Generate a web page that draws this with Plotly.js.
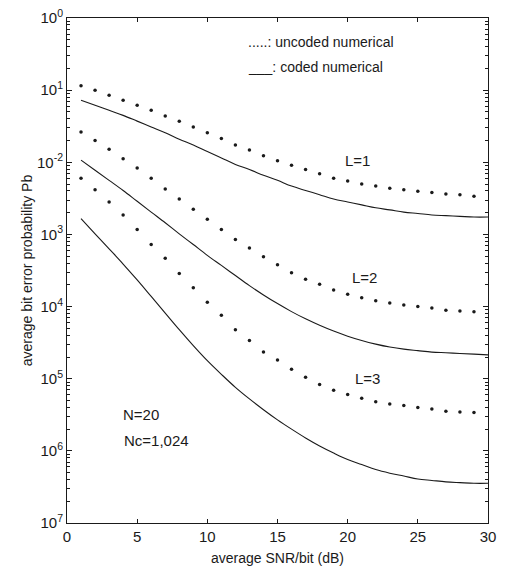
<!DOCTYPE html>
<html>
<head>
<meta charset="utf-8">
<script src="https://cdn.plot.ly/plotly-3.0.1.min.js"></script>
<style>html,body{margin:0;padding:0;background:#fff;}#chart{width:508px;height:575px;}</style>
</head>
<body>
<div id="chart"></div>
<script>
// SNR/bit (dB) sample positions
var snrUncoded = [1,2,3,4,5,6,7,8,9,10,11,12,13,14,15,16,17,18,19,20,21,22,23,24,25,26,27,28,29];
var snrCoded = [1,2,3,4,5,6,7,8,9,10,11,12,13,14,15,16,17,18,19,20,21,22,23,24,25,26,27,28,29,30];

// uncoded numerical (dotted)
var uncodedL1 = [1.15e-1,1.00e-1,8.51e-2,7.24e-2,6.17e-2,5.25e-2,4.37e-2,3.72e-2,3.09e-2,2.57e-2,2.14e-2,1.74e-2,1.48e-2,1.23e-2,1.05e-2,9.12e-3,7.94e-3,6.92e-3,6.03e-3,5.50e-3,5.01e-3,4.68e-3,4.37e-3,4.17e-3,3.98e-3,3.80e-3,3.63e-3,3.55e-3,3.39e-3];
var uncodedL2 = [2.63e-2,2.00e-2,1.51e-2,1.12e-2,8.32e-3,6.03e-3,4.27e-3,3.09e-3,2.24e-3,1.62e-3,1.17e-3,8.51e-4,6.46e-4,4.90e-4,3.80e-4,2.95e-4,2.40e-4,2.04e-4,1.70e-4,1.48e-4,1.32e-4,1.20e-4,1.12e-4,1.05e-4,1.00e-4,9.55e-5,8.91e-5,8.71e-5,8.51e-5];
var uncodedL3 = [6.03e-3,4.17e-3,2.82e-3,1.86e-3,1.17e-3,7.24e-4,4.68e-4,2.88e-4,1.82e-4,1.15e-4,7.59e-5,4.79e-5,3.39e-5,2.34e-5,1.82e-5,1.35e-5,1.05e-5,8.32e-6,6.92e-6,6.03e-6,5.37e-6,4.79e-6,4.47e-6,4.27e-6,3.98e-6,3.80e-6,3.55e-6,3.47e-6,3.39e-6];

// coded numerical (solid)
var codedL1 = [7.24e-2,6.17e-2,5.25e-2,4.47e-2,3.72e-2,3.09e-2,2.57e-2,2.09e-2,1.74e-2,1.41e-2,1.15e-2,9.33e-3,7.94e-3,6.61e-3,5.62e-3,4.68e-3,4.07e-3,3.55e-3,3.09e-3,2.82e-3,2.57e-3,2.34e-3,2.19e-3,2.04e-3,1.95e-3,1.86e-3,1.82e-3,1.78e-3,1.74e-3,1.74e-3];
var codedL2 = [1.07e-2,7.76e-3,5.62e-3,4.07e-3,2.88e-3,2.04e-3,1.45e-3,1.02e-3,7.24e-4,5.13e-4,3.72e-4,2.69e-4,1.95e-4,1.45e-4,1.10e-4,8.51e-5,6.76e-5,5.50e-5,4.57e-5,3.89e-5,3.39e-5,3.02e-5,2.75e-5,2.57e-5,2.45e-5,2.34e-5,2.29e-5,2.24e-5,2.19e-5,2.14e-5];
var codedL3 = [1.66e-3,1.02e-3,6.31e-4,3.89e-4,2.34e-4,1.38e-4,8.13e-5,4.79e-5,2.88e-5,1.78e-5,1.15e-5,7.59e-6,5.25e-6,3.72e-6,2.69e-6,2.00e-6,1.51e-6,1.17e-6,9.33e-7,7.59e-7,6.46e-7,5.50e-7,4.90e-7,4.47e-7,4.07e-7,3.89e-7,3.72e-7,3.63e-7,3.55e-7,3.55e-7];

// tick labels as printed
var yTickVals = [1,1e-1,1e-2,1e-3,1e-4,1e-5,1e-6,1e-7];
var yTickExp = ['0','1','-2','3','4','5','6','7'];
var xTickVals = [0,5,10,15,20,25,30];

var curveLabels = [{text:'L=1', x:20.7, y:1.05e-2},{text:'L=2', x:21.2, y:2.57e-4},{text:'L=3', x:21.4, y:1.02e-5}];

var FONT = 'Liberation Sans, Arial, sans-serif';
var ink = '#1a1a1a';

// minor log ticks (2..9 within each decade), derived from the major ticks
var yMinor = [];
yTickVals.slice(1).forEach(function(d){ for (var m = 2; m <= 9; m++) yMinor.push(d*m); });

function dots(y){ return {x:snrUncoded, y:y, mode:'markers', type:'scatter', marker:{color:ink, size:3.5}, showlegend:false, hoverinfo:'skip'}; }
function line(y){ return {x:snrCoded, y:y, mode:'lines', type:'scatter', line:{color:ink, width:1.1, shape:'spline'}, showlegend:false, hoverinfo:'skip'}; }

var data = [dots(uncodedL1), dots(uncodedL2), dots(uncodedL3), line(codedL1), line(codedL2), line(codedL3)];

var annotations = curveLabels.map(function(c){
  return {x:c.x, y:Math.log10(c.y), xref:'x', yref:'y', text:c.text, showarrow:false, font:{family:FONT, size:15, color:ink}};
});
annotations.push({xref:'paper', yref:'paper', x:0.425, y:0.953, xanchor:'left', yanchor:'middle', text:'.....: uncoded numerical', showarrow:false, font:{family:FONT, size:14, color:ink}});
annotations.push({xref:'paper', yref:'paper', x:0.425, y:0.903, xanchor:'left', yanchor:'middle', text:'___: coded numerical', showarrow:false, font:{family:FONT, size:14, color:ink}});
annotations.push({xref:'paper', yref:'paper', x:0.128, y:0.214, xanchor:'left', yanchor:'middle', text:'N=20', showarrow:false, font:{family:FONT, size:15, color:ink}});
annotations.push({xref:'paper', yref:'paper', x:0.13, y:0.164, xanchor:'left', yanchor:'middle', text:'Nc=1,024', showarrow:false, font:{family:FONT, size:15, color:ink}});

var layout = {
  width:508, height:575,
  margin:{l:67, r:20, t:18, b:52},
  paper_bgcolor:'#fff', plot_bgcolor:'#fff',
  font:{family:FONT, color:ink},
  xaxis:{
    range:[0,30], tickvals:xTickVals, ticks:'inside', ticklen:4, tickcolor:ink,
    showline:true, linecolor:ink, linewidth:1, mirror:'ticks', showgrid:false, zeroline:false,
    tickfont:{family:FONT, size:15, color:ink},
    title:{text:'average SNR/bit (dB)', font:{family:FONT, size:14, color:ink}, standoff:9}
  },
  yaxis:{
    type:'log', range:[-7,0], tickvals:yTickVals,
    ticktext:yTickExp.map(function(e){return '10<sup>'+e+'</sup>';}),
    ticks:'inside', ticklen:5, tickcolor:ink,
    minor:{tickmode:'array', tickvals:yMinor, ticks:'inside', ticklen:3, tickcolor:ink, showgrid:false},
    showline:true, linecolor:ink, linewidth:1, mirror:'ticks', showgrid:false, zeroline:false,
    tickfont:{family:FONT, size:15, color:ink},
    title:{text:'average bit error probability Pb', font:{family:FONT, size:14, color:ink}, standoff:1}
  },
  annotations:annotations,
  showlegend:false
};

Plotly.newPlot('chart', data, layout, {displayModeBar:false, staticPlot:true});
</script>
</body>
</html>
